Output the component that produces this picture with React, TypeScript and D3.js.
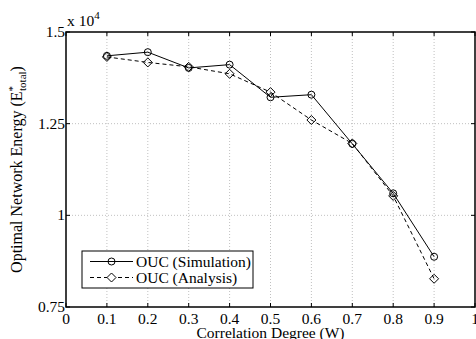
import React from "react";
import * as d3 from "d3";

// correlation degree (W)
const degrees = [0.1, 0.2, 0.3, 0.4, 0.5, 0.6, 0.7, 0.8, 0.9];
// energy, x 10^4
const simulation = [1.435, 1.445, 1.402, 1.411, 1.322, 1.329, 1.195, 1.06, 0.887];
const analysis = [1.432, 1.417, 1.405, 1.386, 1.336, 1.26, 1.196, 1.053, 0.827];
const xTicks = [0, 0.1, 0.2, 0.3, 0.4, 0.5, 0.6, 0.7, 0.8, 0.9, 1];
const yTicks = [0.75, 1, 1.25, 1.5];

const width = 476;
const height = 339;
const margin = { top: 32, right: 1, bottom: 32, left: 66 };

const App = () => {
  const x = d3.scaleLinear().domain([0, 1]).range([margin.left, width - margin.right]);
  const y = d3.scaleLinear().domain([0.75, 1.5]).range([height - margin.bottom, margin.top]);

  const line = d3
    .line<number>()
    .x((_, i) => x(degrees[i]))
    .y((d) => y(d));

  const x0 = x(0);
  const x1 = x(1);
  const y0 = y(0.75);
  const y1 = y(1.5);
  const font = "Liberation Serif, Times New Roman, serif";
  const fs = 15.5;

  const diamond = (cx: number, cy: number, r: number) =>
    `M${cx},${cy - r}L${cx + r},${cy}L${cx},${cy + r}L${cx - r},${cy}Z`;

  return (
    <svg
      width={width}
      height={height}
      style={{ position: "absolute", left: 0, top: 0, background: "#fff", fontFamily: font }}
    >
      <rect x={0} y={0} width={width} height={height} fill="#fff" />
      {/* grid */}
      <g stroke="#b0b0b0" strokeWidth={0.8} strokeDasharray="1,2">
        {xTicks.slice(1, -1).map((t) => (
          <line key={"gx" + t} x1={x(t)} x2={x(t)} y1={y0} y2={y1} />
        ))}
        {yTicks.slice(1, -1).map((t) => (
          <line key={"gy" + t} x1={x0} x2={x1} y1={y(t)} y2={y(t)} />
        ))}
      </g>
      {/* ticks */}
      <g stroke="#000" strokeWidth={1}>
        {xTicks.map((t) => (
          <g key={"tx" + t}>
            <line x1={x(t)} x2={x(t)} y1={y0} y2={y0 - 4} />
            <line x1={x(t)} x2={x(t)} y1={y1} y2={y1 + 4} />
          </g>
        ))}
        {yTicks.map((t) => (
          <g key={"ty" + t}>
            <line x1={x0} x2={x0 + 4} y1={y(t)} y2={y(t)} />
            <line x1={x1} x2={x1 - 4} y1={y(t)} y2={y(t)} />
          </g>
        ))}
      </g>
      <rect x={x0} y={y1} width={x1 - x0} height={y0 - y1} fill="none" stroke="#000" strokeWidth={1.5} />

      {/* tick labels */}
      <g fontSize={fs} fill="#000" style={{ fontFamily: font }}>
        {xTicks.map((t) => (
          <text key={"lx" + t} x={x(t)} y={y0 + 17} textAnchor="middle">
            {String(t)}
          </text>
        ))}
        {yTicks.map((t) => (
          <text key={"ly" + t} x={x0 - 1} y={y(t) + 5} textAnchor="end">
            {String(t)}
          </text>
        ))}
        <text x={x0 + 1} y={y1 - 6}>
          x 10<tspan dy={-7} fontSize={11}>4</tspan>
        </text>
      </g>

      {/* axis labels */}
      <text x={(x0 + x1) / 2} y={height - 1} fontSize={fs} textAnchor="middle" style={{ fontFamily: font }}>
        Correlation Degree (W)
      </text>
      <text
        transform={`translate(22,${(y0 + y1) / 2}) rotate(-90)`}
        fontSize={16}
        textAnchor="middle"
        style={{ fontFamily: font }}
      >
        Optimal Network Energy (E<tspan dy={-6} fontSize={11}>*</tspan>
        <tspan dy={10} dx={-5} fontSize={11}>total</tspan>
        <tspan dy={-4}>)</tspan>
      </text>

      {/* series */}
      <path d={line(analysis) || ""} fill="none" stroke="#000" strokeWidth={1} strokeDasharray="4,3" />
      <path d={line(simulation) || ""} fill="none" stroke="#000" strokeWidth={1} />
      {analysis.map((v, i) => (
        <path key={"a" + i} d={diamond(x(degrees[i]), y(v), 4.5)} fill="none" stroke="#000" strokeWidth={1} />
      ))}
      {simulation.map((v, i) => (
        <circle key={"s" + i} cx={x(degrees[i])} cy={y(v)} r={3.5} fill="none" stroke="#000" strokeWidth={1} />
      ))}

      {/* legend */}
      <g style={{ fontFamily: font }}>
        <rect x={82} y={251} width={171} height={37} fill="#fff" stroke="#000" strokeWidth={1} />
        <line x1={90} x2={133} y1={261.5} y2={261.5} stroke="#000" strokeWidth={1} />
        <circle cx={111.5} cy={261.5} r={3.5} fill="none" stroke="#000" />
        <text x={136} y={266.5} fontSize={fs}>OUC (Simulation)</text>
        <line x1={90} x2={133} y1={277.5} y2={277.5} stroke="#000" strokeWidth={1} strokeDasharray="4,3" />
        <path d={diamond(111.5, 277.5, 4.5)} fill="#fff" stroke="#000" />
        <text x={136} y={282.5} fontSize={fs}>OUC (Analysis)</text>
      </g>
    </svg>
  );
};

export default App;
